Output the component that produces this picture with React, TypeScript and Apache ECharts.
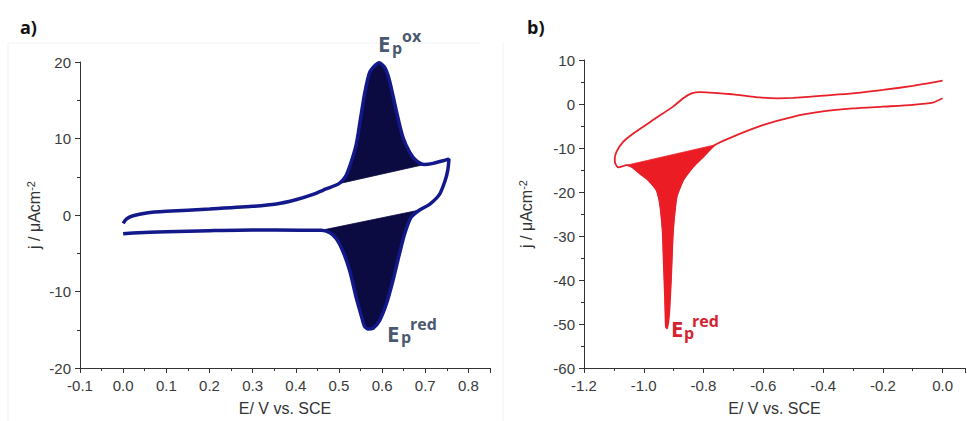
import React, { useEffect, useRef } from 'react';
import * as echarts from 'echarts';

// Panel a) — forward (anodic) scan: [E (V), j (µA cm^-2)]
const aForwardScan: number[][] = [
  [0.0, -1.1], [0.008, -0.5], [0.023, -0.1], [0.054, 0.26], [0.1, 0.48], [0.2, 0.78],
  [0.3, 1.13], [0.355, 1.44], [0.4, 2.0], [0.44, 2.7], [0.47, 3.4], [0.5, 4.1],
  [0.515, 5.0], [0.527, 6.7], [0.54, 9.2], [0.55, 12.6], [0.56, 16.0], [0.571, 18.6],
  [0.583, 19.5], [0.593, 19.9], [0.606, 19.3], [0.617, 17.6], [0.633, 13.6], [0.648, 10.2],
  [0.664, 8.2], [0.679, 7.1], [0.698, 6.6], [0.718, 6.75], [0.748, 7.2], [0.755, 7.3],
];
// Panel a) — reverse (cathodic) scan
const aReverseScan: number[][] = [
  [0.755, 7.3], [0.752, 5.8], [0.746, 4.5], [0.733, 2.7], [0.71, 1.4], [0.687, 0.65],
  [0.667, -0.3], [0.652, -2.5], [0.64, -5.1], [0.625, -8.6], [0.61, -11.6], [0.594, -13.8],
  [0.579, -14.8], [0.567, -14.9], [0.559, -14.5], [0.552, -13.2], [0.54, -10.8], [0.525, -7.3],
  [0.509, -4.7], [0.494, -3.1], [0.478, -2.3], [0.459, -2.0], [0.41, -2.0], [0.3, -1.95],
  [0.2, -2.05], [0.1, -2.2], [0.023, -2.35], [0.0, -2.45],
];
// Panel b) — upper branch
const bUpperBranch: number[][] = [
  [0.0, 5.3], [-0.05, 4.7], [-0.1, 4.1], [-0.2, 3.2], [-0.3, 2.4], [-0.4, 1.9], [-0.5, 1.4],
  [-0.55, 1.3], [-0.612, 1.5], [-0.7, 2.2], [-0.723, 2.3], [-0.78, 2.6], [-0.812, 2.7],
  [-0.84, 2.4], [-0.868, 1.3], [-0.902, -0.6], [-0.968, -3.6], [-1.035, -6.7], [-1.069, -8.6],
  [-1.091, -10.8], [-1.097, -12.5], [-1.096, -13.4],
];
// Panel b) — lower branch with reduction peak
const bLowerBranch: number[][] = [
  [-1.096, -13.4], [-1.085, -14.4], [-1.057, -13.9], [-1.04, -14.3], [-1.013, -15.8],
  [-0.985, -17.3], [-0.957, -19.6], [-0.946, -22.6], [-0.937, -28.7], [-0.933, -36.2],
  [-0.929, -43.8], [-0.926, -50.6], [-0.922, -51.0], [-0.915, -47.6], [-0.909, -40.0],
  [-0.902, -28.7], [-0.89, -21.1], [-0.868, -17.3], [-0.835, -14.3], [-0.801, -12.0],
  [-0.762, -9.3], [-0.701, -7.4], [-0.602, -4.8], [-0.501, -2.9], [-0.401, -1.7],
  [-0.3, -1.0], [-0.2, -0.6], [-0.1, -0.2], [-0.033, 0.3], [0.0, 1.3],
];

// Peak regions (between curve and straight baseline)
const aOxPeak = aForwardScan.filter((p) => p[0] >= 0.5 && p[0] <= 0.7);
const aRedPeak = aReverseScan.filter((p) => p[0] >= 0.459 && p[0] <= 0.69);
const bRedPeak = bLowerBranch.filter((p) => p[0] >= -1.06 && p[0] <= -0.76);

const aCurve = aForwardScan.concat(aReverseScan.slice(1));
const bCurve = bUpperBranch.concat(bLowerBranch.slice(1));

const aTicks = { min: -0.1, max: 0.85, interval: 0.1 };
const aJTicks = { min: -20, max: 20, interval: 10 };
const bTicks = { min: -1.2, max: 0.075, interval: 0.2 };
const bJTicks = { min: -60, max: 10, interval: 10 };

const LABEL_FONT = 'Liberation Sans, Arial, sans-serif';
const AX = '#333333';

function xAxisCfg(gridIndex: number, t: { min: number; max: number; interval: number }) {
  return {
    type: 'value',
    gridIndex,
    min: t.min,
    max: t.max,
    interval: t.interval,
    name: 'E/ V vs. SCE',
    nameLocation: 'middle',
    nameGap: 32,
    nameTextStyle: { fontSize: 16, color: '#333', fontFamily: LABEL_FONT },
    axisLine: { show: true, onZero: false, lineStyle: { color: AX, width: 1 } },
    axisTick: { show: true, inside: false, length: 5, lineStyle: { color: AX } },
    minorTick: { show: true, splitNumber: 2, length: 3, lineStyle: { color: AX } },
    splitLine: { show: false },
    minorSplitLine: { show: false },
    axisLabel: {
      color: '#3a3a3a',
      fontSize: 15,
      fontFamily: LABEL_FONT,
      margin: 10,
      showMaxLabel: false,
      formatter: (v: number) => v.toFixed(1),
    },
  };
}

function yAxisCfg(gridIndex: number, t: { min: number; max: number; interval: number }, gap: number) {
  return {
    type: 'value',
    gridIndex,
    min: t.min,
    max: t.max,
    interval: t.interval,
    name: 'j / μAcm{sup|-2}',
    nameLocation: 'middle',
    nameGap: gap,
    nameTextStyle: {
      fontSize: 16,
      color: '#333',
      fontFamily: LABEL_FONT,
      rich: {
        sup: { fontSize: 11, verticalAlign: 'top', color: '#333', fontFamily: LABEL_FONT, padding: [0, 0, 8, 0] },
      },
    },
    axisLine: { show: true, onZero: false, lineStyle: { color: AX, width: 1 } },
    axisTick: { show: true, inside: false, length: 5, lineStyle: { color: AX } },
    minorTick: { show: true, splitNumber: 2, length: 3, lineStyle: { color: AX } },
    splitLine: { show: false },
    minorSplitLine: { show: false },
    axisLabel: { color: '#3a3a3a', fontSize: 15, fontFamily: LABEL_FONT, margin: 9 },
  };
}

function fillSeries(points: number[][], idx: number, color: string) {
  return {
    type: 'custom',
    xAxisIndex: idx,
    yAxisIndex: idx,
    data: [0],
    silent: true,
    z: 1,
    renderItem: (_params: any, api: any) => ({
      type: 'polygon',
      shape: { points: points.map((p) => api.coord(p)), smooth: 0 },
      style: { fill: color, stroke: color, lineWidth: 0.8 },
    }),
  };
}

function txt(x: number, y: number, text: string, size: number, color: string, weight = 'bold') {
  return {
    type: 'text',
    x,
    y,
    style: {
      text,
      fontSize: size,
      fontWeight: weight,
      fontFamily: 'Open Sans, sans-serif',
      fill: color,
      verticalAlign: 'middle',
      align: 'left',
    },
  };
}

const NAVY_LABEL = '#4a5870';
const RED_LABEL = '#d42330';

export default function App() {
  const ref = useRef<HTMLDivElement>(null);
  useEffect(() => {
    if (!ref.current) return;
    const chart = echarts.init(ref.current, null, { renderer: 'svg' });
    const option: any = {
      animation: false,
      backgroundColor: '#ffffff',
      grid: [
        { left: 80, top: 62, width: 410, height: 306, containLabel: false },
        { left: 584, top: 60, width: 381, height: 308, containLabel: false },
      ],
      xAxis: [xAxisCfg(0, aTicks), xAxisCfg(1, bTicks)],
      yAxis: [yAxisCfg(0, aJTicks, 36), yAxisCfg(1, bJTicks, 48)],
      series: [
        fillSeries(aOxPeak, 0, '#0b0b42'),
        fillSeries(aRedPeak, 0, '#0b0b42'),
        {
          type: 'line',
          xAxisIndex: 0,
          yAxisIndex: 0,
          data: aCurve,
          showSymbol: false,
          smooth: 0.25,
          z: 3,
          lineStyle: { color: '#13188a', width: 3.5 },
        },
        fillSeries(bRedPeak, 1, '#ec1c24'),
        {
          type: 'line',
          xAxisIndex: 1,
          yAxisIndex: 1,
          data: bCurve,
          showSymbol: false,
          smooth: 0.2,
          z: 3,
          lineStyle: { color: '#e8202a', width: 1.8 },
        },
      ],
      graphic: [
        { type: 'line', shape: { x1: 8, y1: 43, x2: 8, y2: 421 }, style: { stroke: '#f2f2f2', lineWidth: 1 } },
        { type: 'line', shape: { x1: 8, y1: 43, x2: 480, y2: 43 }, style: { stroke: '#f4f4f4', lineWidth: 1 } },
        { type: 'line', shape: { x1: 503, y1: 43, x2: 503, y2: 421 }, style: { stroke: '#f2f2f2', lineWidth: 1 } },
        txt(20, 27, 'a)', 18, '#111'),
        txt(527, 27, 'b)', 18, '#111'),
        // E_p^ox
        txt(378, 43, 'E', 22, NAVY_LABEL),
        txt(392, 48, 'p', 16, NAVY_LABEL),
        txt(402, 36, 'ox', 16, NAVY_LABEL),
        // E_p^red (a)
        txt(387, 333, 'E', 22, NAVY_LABEL),
        txt(401, 337, 'p', 16, NAVY_LABEL),
        txt(410, 324, 'red', 16, NAVY_LABEL),
        // E_p^red (b)
        txt(671, 328, 'E', 22, RED_LABEL),
        txt(684, 333, 'p', 16, RED_LABEL),
        txt(692, 321, 'red', 16, RED_LABEL),
      ],
    };
    chart.setOption(option);
    return () => chart.dispose();
  }, []);
  return (
    <div
      ref={ref}
      style={{ position: 'absolute', left: 0, top: 0, width: 967, height: 421, background: '#fff' }}
    />
  );
}
